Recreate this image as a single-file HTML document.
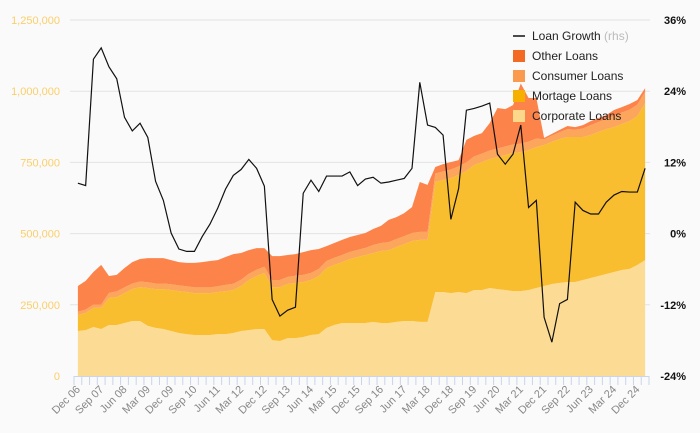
<!DOCTYPE html>
<html><head><meta charset="utf-8"><style>
body{margin:0;background:#fafafa;font-family:"Liberation Sans",sans-serif}
svg{display:block}
</style></head><body>
<svg id="chart" width="700" height="433"></svg>
<script>
const categories=[];(function(){const m=['Mar','Jun','Sep','Dec'];for(let i=0;i<74;i++){const q=(3+i)%4;const y=2006+Math.floor((3+i)/4);categories.push(m[q]+' '+String(y%100).padStart(2,'0'));}})();
const corporate=[158,161,172,165,179,179,186,193,193,176,169,165,158,151,147,144,144,144,147,147,151,158,161,165,165,126,123,133,133,137,144,147,169,179,186,186,186,186,190,186,186,190,193,193,190,190,295,295,291,295,291,302,302,309,305,302,298,298,302,309,316,323,327,330,330,337,344,351,358,365,372,376,390,407];
const mortgage=[56,60,67,74,95,98,105,112,119,133,136,140,144,147,148,147,147,147,148,151,151,158,176,186,197,186,189,190,194,193,193,204,210,211,214,225,232,239,242,253,256,263,270,281,288,288,386,393,404,411,429,439,449,453,464,474,485,488,491,495,495,499,505,509,509,502,502,506,509,509,513,519,523,551];
const consumer=[12,12,12,12,18,20,20,20,20,20,20,20,20,20,20,20,20,20,20,22,22,22,22,22,22,25,25,25,25,25,25,25,25,25,25,25,25,25,28,28,28,28,28,28,28,28,30,30,30,30,30,30,30,30,30,30,30,30,30,30,20,22,24,28,26,30,35,35,35,40,40,40,40,40];
const other=[90,101,114,139,59,58,68,75,79,85,89,89,85,82,82,86,89,93,92,98,104,94,83,76,65,84,84,77,76,80,80,70,52,52,53,52,52,52,56,60,78,77,81,91,175,165,23,26,26,22,79,72,72,96,142,131,138,211,153,142,5,6,8,11,9,12,14,14,14,20,19,20,16,13];
const growth=[8.5,8.1,29.4,31.3,28.1,26.1,19.6,17.3,18.6,16.2,8.8,5.6,0.1,-2.6,-3.0,-3.0,-0.5,1.6,4.3,7.5,9.8,10.8,12.5,11.0,8.0,-11.1,-13.9,-12.9,-12.4,6.8,9.0,7.1,9.7,9.7,9.7,10.4,8.1,9.2,9.5,8.5,8.7,9.0,9.3,11.0,25.5,18.3,17.9,16.6,2.4,7.6,20.8,21.1,21.5,22.0,13.4,11.7,13.4,18.3,4.4,5.6,-14.1,-18.3,-11.8,-11.1,5.3,3.9,3.3,3.3,5.3,6.5,7.1,7.0,7.0,11.0];
const leftTicks=[0,250,500,750,1000,1250];
const leftLabels=['0','250,000','500,000','750,000','1,000,000','1,250,000'];
const rightTicks=[-24,-12,0,12,24,36];
const seriesNames=['Corporate Loans','Mortage Loans','Consumer Loans','Other Loans'];
const NS='http://www.w3.org/2000/svg';
const svg=document.getElementById('chart');
const X0=74,X1=649,YT=20,YB=376;
const step=(X1-X0)/categories.length;
function x(i){return X0+step*(i+0.5);}
function yl(v){return YB-(v/1250)*(YB-YT);}
function yr(p){return YB-((p+24)/60)*(YB-YT);}
function el(t,a,p){const e=document.createElementNS(NS,t);for(const k in a)e.setAttribute(k,a[k]);(p||svg).appendChild(e);return e;}
leftTicks.forEach((v,k)=>{
 if(v>0){const g=el('line',{x1:70,x2:650,y1:yl(v),y2:yl(v),stroke:'#e3e3e3','stroke-width':1});
 
 }
 const t=el('text',{x:60,y:yl(v)+4,'text-anchor':'end','font-size':11,fill:'#fbcf6a'});t.textContent=leftLabels[k];
 
 
});
rightTicks.forEach(p=>{
 const t=el('text',{x:686,y:yr(p)+4,'text-anchor':'end','font-size':11,fill:'#111','font-weight':'bold'});t.textContent=p+'%';
 
 
});
const stacks=[corporate,mortgage,consumer,other];
const colors=['#fcdc94','#f9bd30','#fca55d','#fc834a'];
const names=['area-corporate','area-mortgage','area-consumer','area-other'];
const base=categories.map(()=>0);
stacks.forEach((s,k)=>{
 const top=base.map((b,i)=>b+s[i]);
 let d='M'+x(0)+','+yl(top[0]);
 for(let i=1;i<top.length;i++)d+='L'+x(i)+','+yl(top[i]);
 for(let i=top.length-1;i>=0;i--)d+='L'+x(i)+','+yl(base[i]);
 const p=el('path',{d:d+'Z',fill:colors[k]});
 
 
 top.forEach((v,i)=>base[i]=v);
});
// axis
const ax=el('line',{x1:X0,x2:X1,y1:YB+0.5,y2:YB+0.5,stroke:'#c8d5ea'});


for(let i=0;i<=categories.length;i++){
 const tk=el('line',{x1:X0+step*i,x2:X0+step*i,y1:YB,y2:YB+9,stroke:'#c8d5ea'});
 
 
}
categories.forEach((c,i)=>{
 if(i%3)return;
 const t=el('text',{x:x(i)+3,y:YB+14,'text-anchor':'end','font-size':11,fill:'#888',transform:`rotate(-45 ${x(i)+3} ${YB+14})`});t.textContent=c;
 
 
});
let d='';growth.forEach((g,i)=>d+=(i?'L':'M')+x(i)+','+yr(g));
const ln=el('path',{d,fill:'none',stroke:'#111','stroke-width':1.2});


// legend
const lg=el('g',{});


el('line',{x1:513,x2:525,y1:36,y2:36,stroke:'#111','stroke-width':1.5},lg);
const t0=el('text',{x:532,y:40,'font-size':12,fill:'#222'},lg);t0.innerHTML='Loan Growth <tspan fill="#bbb">(rhs)</tspan>';


const lc=['#f36a24','#fa9a4e','#f5b000','#fcd98a'];
['Other Loans','Consumer Loans','Mortage Loans','Corporate Loans'].forEach((n,k)=>{
 const yy=56+k*20;
 el('rect',{x:513,y:yy-6,width:12,height:12,fill:lc[k]},lg);
 const t=el('text',{x:532,y:yy+4,'font-size':12,fill:'#222'},lg);t.textContent=n;
 
 
});
</script>
</body></html>
